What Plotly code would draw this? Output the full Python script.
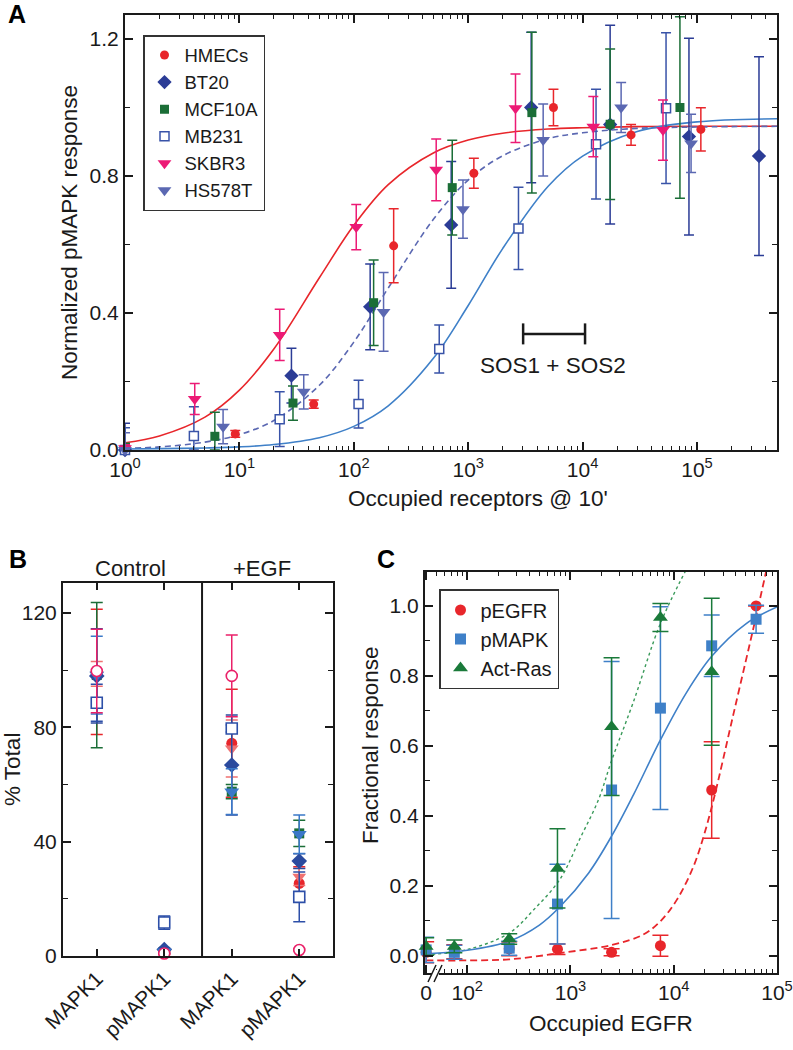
import plotly.graph_objects as go

FONT = "Liberation Sans, Arial, Helvetica, sans-serif"
INK = "#1a1a1a"
W, H = 793, 1050

# ---------------- Panel A data ----------------
hmec_x = [1, 9.2, 44.6, 223, 1120, 5560, 26500, 108000]
hmec_y = [0.0, 0.047, 0.134, 0.596, 0.808, 1.0, 0.92, 0.936]
hmec_e = [0.005, 0.01, 0.012, 0.108, 0.044, 0.053, 0.03, 0.063]

bt20_x = [1, 28.5, 139, 710, 3550, 17400, 85000, 348000]
bt20_y = [0.0, 0.217, 0.418, 0.657, 1.0, 0.95, 0.915, 0.858]
bt20_e = [0.078, 0.08, 0.125, 0.185, 0.22, 0.29, 0.287, 0.29]

mcf_x = [1, 6.1, 29.4, 149, 725, 3600, 17400, 70900]
mcf_y = [0.0, 0.04, 0.137, 0.43, 0.766, 0.985, 0.951, 1.0]
mcf_e = [0.02, 0.07, 0.05, 0.125, 0.138, 0.235, 0.22, 0.265]

mb231_x = [1, 4.0, 22.5, 110, 558, 2750, 13100, 53600]
mb231_y = [0.0, 0.041, 0.09, 0.134, 0.295, 0.647, 0.893, 0.998]
mb231_e = [0.065, 0.085, 0.08, 0.07, 0.07, 0.12, 0.16, 0.22]

skbr3_x = [1, 4.07, 22.5, 105, 525, 2590, 12400, 50400]
skbr3_y = [0.005, 0.149, 0.336, 0.651, 0.818, 0.998, 0.944, 0.934]
skbr3_e = [0.01, 0.045, 0.075, 0.066, 0.09, 0.1, 0.088, 0.088]

hs578_x = [1, 7.2, 36.5, 182, 900, 4520, 21700, 88700]
hs578_y = [0.0, 0.068, 0.17, 0.403, 0.703, 0.905, 1.0, 0.895]
hs578_e = [0.05, 0.05, 0.05, 0.115, 0.085, 0.105, 0.073, 0.085]

# fitted curves
a_curve_x = [1, 2, 5, 10, 20, 50, 100, 200, 500, 1000, 2000, 5000, 10000, 30000, 100000, 500000]
a_fit_red = [0.021, 0.041, 0.096, 0.175, 0.295, 0.503, 0.656, 0.775, 0.868, 0.905, 0.925, 0.937, 0.941, 0.944, 0.945, 0.945]
a_fit_dash = [0.005, 0.009, 0.023, 0.045, 0.086, 0.189, 0.315, 0.473, 0.675, 0.788, 0.859, 0.909, 0.926, 0.939, 0.943, 0.945]
a_fit_blue = [0.003, 0.004, 0.006, 0.009, 0.016, 0.036, 0.069, 0.129, 0.269, 0.422, 0.588, 0.770, 0.858, 0.930, 0.958, 0.967]

sos_x = [3020, 10500]
sos_y = [0.339, 0.339]

a_ticks = [1, 10, 100, 1000, 10000, 100000]
a_ticktext = ["10<sup>0</sup>", "10<sup>1</sup>", "10<sup>2</sup>", "10<sup>3</sup>", "10<sup>4</sup>", "10<sup>5</sup>"]

# ---------------- Panel B data ----------------
b_groups = ["Control", "Control", "+EGF", "+EGF"]
b_proteins = ["MAPK1", "pMAPK1", "MAPK1", "pMAPK1"]
b_hmec = [99.4, 1.0, 74.4, 25.4]
b_hmec_e = [21.9, 0.5, 18.9, 5.8]
b_bt20 = [98.0, 2.3, 66.8, 33.2]
b_bt20_e = [16.5, 0.5, 17.5, 2.6]
b_mcf = [98.3, 1.5, 57.5, 42.9]
b_mcf_e = [25.4, 0.5, 2.5, 4.6]
b_mb231 = [88.6, 11.7, 79.6, 20.7]
b_mb231_e = [6.5, 2.3, 1.2, 8.7]
b_skbr3 = [99.7, 0.9, 98.0, 2.1]
b_skbr3_e = [14.6, 0.3, 14.3, 0.3]
b_hs578 = [98.3, 1.5, 57.5, 42.6]
b_hs578_e = [13.6, 0.5, 8.0, 6.7]
b_other = [98.7, 1.2, 72.6, 27.7]
b_other_e = [4.3, 0.4, 10.0, 3.0]

# ---------------- Panel C data ----------------
c_x = [40, 75, 255, 748, 2500, 7430, 23300, 62700]
pegfr_y = [0.01, 0.012, 0.02, 0.019, 0.01, 0.029, 0.474, 1.0]
pegfr_e = [0.03, 0.02, 0.02, 0.015, 0.01, 0.03, 0.138, 0.0]
pmapk_y = [0.017, 0.01, 0.022, 0.148, 0.474, 0.708, 0.886, 0.962]
pmapk_e = [0.036, 0.02, 0.02, 0.114, 0.367, 0.29, 0.088, 0.04]
ras_x = [40, 75, 255, 748, 2500, 7430, 23300]
ras_y = [0.027, 0.027, 0.048, 0.25, 0.655, 0.967, 0.812]
ras_e = [0.025, 0.018, 0.015, 0.113, 0.197, 0.04, 0.21]

c_green_x = [40, 100, 255, 438, 795, 1240, 1866, 2500, 4070, 7430, 12900]
c_green_y = [0.003, 0.018, 0.065, 0.131, 0.22, 0.336, 0.446, 0.558, 0.726, 0.95, 1.098]
c_blue_x = [40, 100, 255, 500, 795, 1500, 2500, 4070, 7430, 13200, 23300, 50000, 100000]
c_blue_y = [0.006, 0.016, 0.042, 0.088, 0.141, 0.237, 0.342, 0.46, 0.617, 0.751, 0.856, 0.949, 0.997]
c_red_x = [40, 100, 255, 795, 2500, 5000, 7380, 10700, 15500, 19400, 24300, 37800, 62700, 80000]
c_red_y = [-0.013, -0.013, -0.01, 0.008, 0.031, 0.06, 0.098, 0.16, 0.255, 0.34, 0.446, 0.69, 0.97, 1.11]

c_ticks = [40, 100, 1000, 10000, 100000]
c_ticktext = ["0", "10<sup>2</sup>", "10<sup>3</sup>", "10<sup>4</sup>", "10<sup>5</sup>"]

# ---------------- colours ----------------
RED = "#e8262b"
NAVY = "#2b3c96"
GREEN = "#1b6e37"
MBBLUE = "#3953a8"
MAGENTA = "#ec1a75"
SLATE = "#5b68b2"
CBLUE = "#3f80c8"
CGREEN = "#1a7a3a"

fig = go.Figure()


def lo(y, e, floor):
    return [min(ei, yi - floor) if yi - floor >= 0 else 0 for yi, ei in zip(y, e)]


# ---- Panel A curves ----
fig.add_trace(go.Scatter(x=a_curve_x, y=a_fit_red, mode="lines", line=dict(color=RED, width=1.6, shape="spline"),
                         showlegend=False, xaxis="x", yaxis="y", hoverinfo="skip"))
fig.add_trace(go.Scatter(x=a_curve_x, y=a_fit_dash, mode="lines",
                         line=dict(color=SLATE, width=1.6, dash="6px,4px", shape="spline"),
                         showlegend=False, xaxis="x", yaxis="y", hoverinfo="skip"))
fig.add_trace(go.Scatter(x=a_curve_x, y=a_fit_blue, mode="lines", line=dict(color=CBLUE, width=1.6, shape="spline"),
                         showlegend=False, xaxis="x", yaxis="y", hoverinfo="skip"))

a_series = [
    ("HMECs", hmec_x, hmec_y, hmec_e, dict(symbol="circle", size=9, color=RED), RED),
    ("BT20", bt20_x, bt20_y, bt20_e, dict(symbol="diamond", size=11, color=NAVY), NAVY),
    ("MCF10A", mcf_x, mcf_y, mcf_e, dict(symbol="square", size=9, color=GREEN), GREEN),
    ("MB231", mb231_x, mb231_y, mb231_e,
     dict(symbol="square", size=9, color="white", line=dict(color=MBBLUE, width=1.5)), MBBLUE),
    ("SKBR3", skbr3_x, skbr3_y, skbr3_e, dict(symbol="triangle-down", size=12, color=MAGENTA), MAGENTA),
    ("HS578T", hs578_x, hs578_y, hs578_e, dict(symbol="triangle-down", size=12, color=SLATE), SLATE),
]
for name, xs, ys, es, mk, col in a_series:
    fig.add_trace(go.Scatter(
        x=xs, y=ys, mode="markers", name=name, marker=mk, cliponaxis=False,
        error_y=dict(type="data", symmetric=False, array=es, arrayminus=lo(ys, es, 0.0),
                     color=col, thickness=1.5, width=5),
        xaxis="x", yaxis="y", legend="legend"))

# SOS bar
fig.add_trace(go.Scatter(x=sos_x, y=sos_y, mode="lines+markers", line=dict(color=INK, width=2.5),
                         marker=dict(symbol="line-ns", size=15, line=dict(color=INK, width=2.5)),
                         showlegend=False, xaxis="x", yaxis="y", hoverinfo="skip"))

# ---- Panel B ----
b_keys = [g + " " + p for g, p in zip(b_groups, b_proteins)]
b_series = [
    ("HMECs", b_hmec, b_hmec_e, dict(symbol="circle", size=11, color=RED), RED),
    ("MCF10A", b_mcf, b_mcf_e, dict(symbol="square", size=10, color=GREEN), GREEN),
    ("other", b_other, b_other_e, dict(symbol="triangle-down", size=12, color="#f07272"), "#f07272"),
    ("BT20", b_bt20, b_bt20_e, dict(symbol="diamond", size=12, color="#2b4a9e"), "#2b4a9e"),
    ("HS578T", b_hs578, b_hs578_e, dict(symbol="triangle-down", size=13, color="#3a78c8"), "#3a78c8"),
    ("MB231", b_mb231, b_mb231_e,
     dict(symbol="square", size=11, color="white", line=dict(color="#2d4fa8", width=1.6)), "#2d4fa8"),
    ("SKBR3", b_skbr3, b_skbr3_e,
     dict(symbol="circle", size=11, color="white", line=dict(color="#ea2169", width=1.6)), "#ea2169"),
]
for name, ys, es, mk, col in b_series:
    fig.add_trace(go.Scatter(
        x=b_keys, y=ys, mode="markers", name=name, marker=mk, cliponaxis=False,
        error_y=dict(type="data", array=es, color=col, thickness=1.5, width=6),
        showlegend=False, xaxis="x2", yaxis="y2"))

# ---- Panel C ----
fig.add_trace(go.Scatter(x=c_green_x, y=c_green_y, mode="lines",
                         line=dict(color="#3a9a5a", width=1.4, dash="dot", shape="spline"),
                         showlegend=False, xaxis="x3", yaxis="y3", hoverinfo="skip"))
fig.add_trace(go.Scatter(x=c_blue_x, y=c_blue_y, mode="lines",
                         line=dict(color=CBLUE, width=1.6, shape="spline"),
                         showlegend=False, xaxis="x3", yaxis="y3", hoverinfo="skip"))
fig.add_trace(go.Scatter(x=c_red_x, y=c_red_y, mode="lines",
                         line=dict(color=RED, width=1.8, dash="7px,4px", shape="spline"),
                         showlegend=False, xaxis="x3", yaxis="y3", hoverinfo="skip"))

c_series = [
    ("pEGFR", c_x, pegfr_y, pegfr_e, dict(symbol="circle", size=11, color=RED), RED),
    ("pMAPK", c_x, pmapk_y, pmapk_e, dict(symbol="square", size=11, color=CBLUE), CBLUE),
    ("Act-Ras", ras_x, ras_y, ras_e, dict(symbol="triangle-up", size=13, color=CGREEN), CGREEN),
]
for name, xs, ys, es, mk, col in c_series:
    fig.add_trace(go.Scatter(
        x=xs, y=ys, mode="markers", name=name, marker=mk, cliponaxis=False,
        error_y=dict(type="data", array=es, color=col, thickness=1.5, width=8),
        xaxis="x3", yaxis="y3", legend="legend2"))

# ---------------- axes ----------------
tickfont = dict(size=21, family=FONT, color=INK)


def ax(**kw):
    base = dict(showline=True, linecolor=INK, linewidth=2, mirror="ticks", ticks="inside", ticklen=8,
                tickwidth=1.5, tickcolor=INK, showgrid=False, zeroline=False, tickfont=tickfont,
                automargin=False)
    base.update(kw)
    return base


minor_log = dict(ticks="inside", ticklen=4, tickwidth=1.2, tickcolor=INK, dtick="D1", showgrid=False)

fig.update_layout(
    template="none",
    width=W, height=H, margin=dict(l=0, r=0, t=0, b=0, pad=0, autoexpand=False),
    paper_bgcolor="white", plot_bgcolor="white",
    font=dict(family=FONT, color=INK),
    xaxis=ax(type="log", range=[0, 5.699], domain=[125 / W, 777 / W], anchor="y",
             tickmode="array", tickvals=a_ticks, ticktext=a_ticktext, minor=minor_log),
    yaxis=ax(range=[0, 1.27], domain=[1 - 450 / H, 1 - 15 / H], anchor="x",
             tickmode="array", tickvals=[0, 0.4, 0.8, 1.2], ticktext=["0.0", "0.4", "0.8", "1.2"],
             minor=dict(ticks="inside", ticklen=5, tickwidth=1.2, tickcolor=INK, dtick=0.2, tick0=0)),
    xaxis2=ax(type="category", range=[-0.5, 3.5], domain=[63 / W, 333 / W], anchor="y2",
              tickmode="array", tickvals=b_keys, ticktext=b_proteins, tickangle=-45, ticklen=7),
    yaxis2=ax(range=[0, 130.5], domain=[1 - 956 / H, 1 - 583 / H], anchor="x2",
              tickmode="array", tickvals=[0, 40, 80, 120], ticktext=["0", "40", "80", "120"],
              minor=dict(ticks="inside", ticklen=5, tickwidth=1.2, tickcolor=INK, dtick=20, tick0=0)),
    xaxis3=ax(type="log", range=[1.591, 5.0], domain=[425 / W, 777 / W], anchor="y3",
              tickmode="array", tickvals=c_ticks, ticktext=c_ticktext, minor=minor_log),
    yaxis3=ax(range=[-0.049, 1.097], domain=[1 - 973 / H, 1 - 572 / H], anchor="x3",
              tickmode="array", tickvals=[0, 0.2, 0.4, 0.6, 0.8, 1.0],
              ticktext=["0.0", "0.2", "0.4", "0.6", "0.8", "1.0"],
              minor=dict(ticks="inside", ticklen=5, tickwidth=1.2, tickcolor=INK, dtick=0.1, tick0=0)),
    legend=dict(x=143 / W, y=1 - 35 / H, xanchor="left", yanchor="top", bgcolor="white",
                bordercolor="#333333", borderwidth=1.5, font=dict(size=18.5, family=FONT, color=INK),
                tracegroupgap=0),
    legend2=dict(x=439 / W, y=1 - 589 / H, xanchor="left", yanchor="top", bgcolor="white",
                 bordercolor="#333333", borderwidth=1.5, font=dict(size=20, family=FONT, color=INK),
                 tracegroupgap=0),
)

# ---------------- shapes ----------------
shapes = [
    dict(type="line", xref="x2", yref="y2 domain", x0=1.56, x1=1.56, y0=0, y1=1,
         line=dict(color=INK, width=2)),
    # axis break in panel C
    dict(type="rect", xref="paper", yref="paper", x0=432 / W, x1=439 / W, y0=1 - 976 / H, y1=1 - 970 / H,
         fillcolor="white", line=dict(width=0), layer="above"),
    dict(type="line", xref="paper", yref="paper", x0=428 / W, y0=1 - 982 / H, x1=436 / W, y1=1 - 965 / H,
         line=dict(color=INK, width=1.5), layer="above"),
    dict(type="line", xref="paper", yref="paper", x0=434 / W, y0=1 - 982 / H, x1=442 / W, y1=1 - 965 / H,
         line=dict(color=INK, width=1.5), layer="above"),
]
fig.update_layout(shapes=shapes)

# ---------------- annotations ----------------
TF = dict(size=22.5, family=FONT, color=INK)


def ann(text, px, py, font=TF, angle=0, xa="center", ya="middle"):
    return dict(text=text, x=px / W, y=1 - py / H, xref="paper", yref="paper", showarrow=False,
                xanchor=xa, yanchor=ya, font=font, textangle=angle)


LF = dict(size=25, family=FONT, color="black", weight="bold")
annotations = [
    ann("<b>A</b>", 17, 14, LF),
    ann("<b>B</b>", 18, 559, LF),
    ann("<b>C</b>", 386, 559, LF),
    ann("Normalized pMAPK response", 69, 233, TF, -90),
    ann("Occupied receptors @ 10'", 478, 498),
    ann("SOS1 + SOS2", 553, 365),
    ann("Control", 130, 568, dict(size=22, family=FONT, color=INK)),
    ann("+EGF", 262, 568, dict(size=22, family=FONT, color=INK)),
    ann("% Total", 12, 770, TF, -90),
    ann("Fractional response", 370, 745, TF, -90),
    ann("Occupied EGFR", 611, 1023),
]
fig.update_layout(annotations=annotations)

fig.write_html(
    "out.html",
    config={"displayModeBar": False},
    post_script="document.body.style.margin='0';document.body.style.padding='0';"
                "document.body.style.overflow='hidden';",
)
